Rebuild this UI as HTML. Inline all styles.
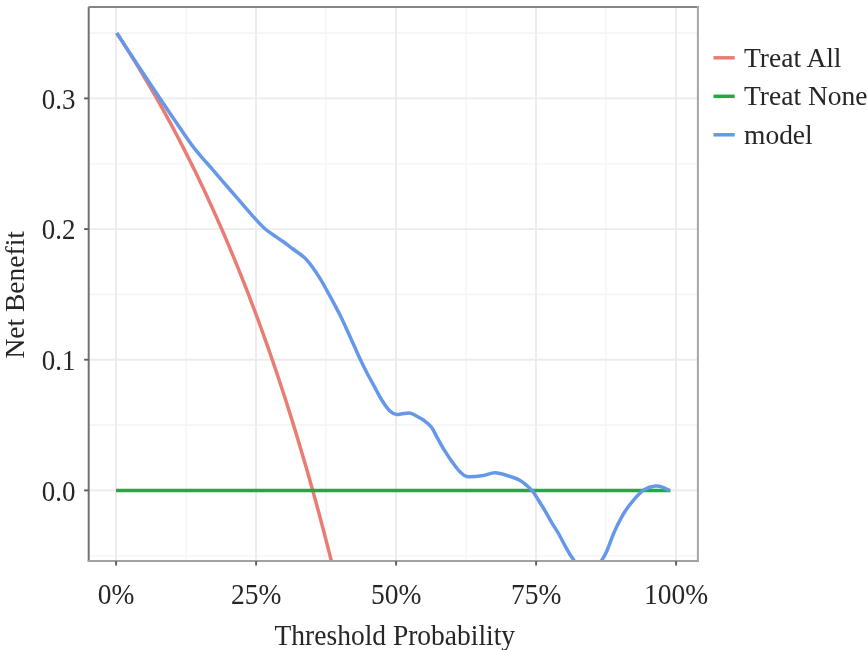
<!DOCTYPE html>
<html><head><meta charset="utf-8"><style>
html,body{margin:0;padding:0;background:#fff;width:867px;height:650px;overflow:hidden}
svg{display:block;filter:blur(0.5px)}
text{font-family:"Liberation Serif",serif;font-size:27.5px;fill:#262626}
</style></head><body>
<svg width="867" height="650" viewBox="0 0 867 650">
<defs><clipPath id="clip"><rect x="88.7" y="7.1" width="609.2" height="553.8"/></clipPath></defs>
<rect x="0" y="0" width="867" height="650" fill="#fff"/>
<line x1="186.0" y1="7.1" x2="186.0" y2="560.9" stroke="#F5F5F5" stroke-width="1.6"/>
<line x1="326.0" y1="7.1" x2="326.0" y2="560.9" stroke="#F5F5F5" stroke-width="1.6"/>
<line x1="466.0" y1="7.1" x2="466.0" y2="560.9" stroke="#F5F5F5" stroke-width="1.6"/>
<line x1="606.0" y1="7.1" x2="606.0" y2="560.9" stroke="#F5F5F5" stroke-width="1.6"/>
<line x1="88.7" y1="555.7" x2="697.9" y2="555.7" stroke="#F5F5F5" stroke-width="1.6"/>
<line x1="88.7" y1="425.1" x2="697.9" y2="425.1" stroke="#F5F5F5" stroke-width="1.6"/>
<line x1="88.7" y1="294.4" x2="697.9" y2="294.4" stroke="#F5F5F5" stroke-width="1.6"/>
<line x1="88.7" y1="163.7" x2="697.9" y2="163.7" stroke="#F5F5F5" stroke-width="1.6"/>
<line x1="88.7" y1="33.1" x2="697.9" y2="33.1" stroke="#F5F5F5" stroke-width="1.6"/>
<line x1="116.0" y1="7.1" x2="116.0" y2="560.9" stroke="#ECECEC" stroke-width="1.9"/>
<line x1="256.0" y1="7.1" x2="256.0" y2="560.9" stroke="#ECECEC" stroke-width="1.9"/>
<line x1="396.0" y1="7.1" x2="396.0" y2="560.9" stroke="#ECECEC" stroke-width="1.9"/>
<line x1="536.0" y1="7.1" x2="536.0" y2="560.9" stroke="#ECECEC" stroke-width="1.9"/>
<line x1="676.0" y1="7.1" x2="676.0" y2="560.9" stroke="#ECECEC" stroke-width="1.9"/>
<line x1="88.7" y1="490.4" x2="697.9" y2="490.4" stroke="#ECECEC" stroke-width="1.9"/>
<line x1="88.7" y1="359.7" x2="697.9" y2="359.7" stroke="#ECECEC" stroke-width="1.9"/>
<line x1="88.7" y1="229.1" x2="697.9" y2="229.1" stroke="#ECECEC" stroke-width="1.9"/>
<line x1="88.7" y1="98.4" x2="697.9" y2="98.4" stroke="#ECECEC" stroke-width="1.9"/>
<g clip-path="url(#clip)" fill="none" stroke-width="3.5" stroke-linejoin="round" stroke-linecap="butt">
<path d="M116.70 33.06 L119.50 37.32 L122.30 41.63 L125.10 45.99 L127.90 50.39 L130.70 54.83 L133.50 59.32 L136.30 63.86 L139.10 68.44 L141.90 73.08 L144.70 77.76 L147.50 82.49 L150.30 87.27 L153.10 92.10 L155.90 96.98 L158.70 101.92 L161.50 106.91 L164.30 111.96 L167.10 117.06 L169.90 122.21 L172.70 127.43 L175.50 132.70 L178.30 138.03 L181.10 143.42 L183.90 148.88 L186.70 154.39 L189.50 159.97 L192.30 165.61 L195.10 171.32 L197.90 177.10 L200.70 182.94 L203.50 188.85 L206.30 194.84 L209.10 200.89 L211.90 207.02 L214.70 213.22 L217.50 219.50 L220.30 225.85 L223.10 232.29 L225.90 238.80 L228.70 245.39 L231.50 252.07 L234.30 258.83 L237.10 265.68 L239.90 272.62 L242.70 279.64 L245.50 286.76 L248.30 293.97 L251.10 301.27 L253.90 308.67 L256.70 316.17 L259.50 323.77 L262.30 331.48 L265.10 339.29 L267.90 347.20 L270.70 355.22 L273.50 363.36 L276.30 371.61 L279.10 379.97 L281.90 388.46 L284.70 397.06 L287.50 405.79 L290.30 414.65 L293.10 423.63 L295.90 432.75 L298.70 442.00 L301.50 451.39 L304.30 460.93 L307.10 470.60 L309.90 480.43 L312.70 490.40 L315.50 500.53 L318.30 510.82 L321.10 521.27 L323.90 531.88 L326.70 542.67 L329.50 553.63 L332.30 564.77 L335.10 576.09 L337.90 587.59 L340.70 599.29 L343.50 611.19 L346.30 623.28 L349.10 635.59" stroke="#E97D74"/>
<path d="M116.0 490.4 L670.4 490.4" stroke="#1FAA48"/>
<path d="M116.80 33.00 C120.58 38.80 131.97 56.38 139.50 67.80 C147.03 79.22 153.97 89.60 162.00 101.50 C170.03 113.40 182.13 131.18 187.70 139.20 C193.27 147.22 192.83 146.33 195.40 149.60 C197.97 152.87 200.53 155.82 203.10 158.80 C205.67 161.78 207.85 164.10 210.80 167.50 C213.75 170.90 216.57 174.30 220.80 179.20 C225.03 184.10 231.08 191.00 236.20 196.90 C241.32 202.80 246.90 209.47 251.50 214.60 C256.10 219.73 259.68 223.98 263.80 227.70 C267.92 231.42 273.00 234.60 276.20 236.90 C279.40 239.20 280.32 239.57 283.00 241.50 C285.68 243.43 288.70 245.78 292.30 248.50 C295.90 251.22 301.12 254.52 304.60 257.80 C308.08 261.08 310.53 264.62 313.20 268.20 C315.87 271.78 318.33 275.60 320.60 279.30 C322.87 283.00 324.75 286.70 326.80 290.40 C328.85 294.10 330.52 297.02 332.90 301.50 C335.28 305.98 338.50 312.00 341.10 317.30 C343.70 322.60 346.25 328.38 348.50 333.30 C350.75 338.22 352.55 342.28 354.60 346.80 C356.65 351.32 358.75 356.08 360.80 360.40 C362.85 364.72 364.57 368.22 366.90 372.70 C369.23 377.18 372.25 382.62 374.80 387.30 C377.35 391.98 379.73 396.90 382.20 400.80 C384.67 404.70 387.23 408.43 389.60 410.70 C391.97 412.97 394.35 413.88 396.40 414.40 C398.45 414.92 399.55 414.00 401.90 413.80 C404.25 413.60 408.03 412.80 410.50 413.20 C412.97 413.60 414.43 414.98 416.70 416.20 C418.97 417.42 421.63 418.65 424.10 420.50 C426.57 422.35 429.27 424.35 431.50 427.30 C433.73 430.25 435.28 434.27 437.50 438.20 C439.72 442.13 442.35 446.93 444.80 450.90 C447.25 454.87 449.75 458.62 452.20 462.00 C454.65 465.38 457.05 468.78 459.50 471.20 C461.95 473.62 463.20 475.73 466.90 476.50 C470.60 477.27 476.98 476.42 481.70 475.80 C486.42 475.18 490.55 472.72 495.20 472.80 C499.85 472.88 505.52 475.07 509.60 476.30 C513.68 477.53 516.78 478.62 519.70 480.20 C522.62 481.78 524.85 483.85 527.10 485.80 C529.35 487.75 531.15 489.23 533.20 491.90 C535.25 494.57 537.35 498.52 539.40 501.80 C541.45 505.08 543.45 508.12 545.50 511.60 C547.55 515.08 549.58 519.13 551.70 522.70 C553.82 526.27 556.02 529.22 558.20 533.00 C560.38 536.78 562.88 541.90 564.80 545.40 C566.72 548.90 568.17 551.50 569.70 554.00 C571.23 556.50 572.45 558.07 574.00 560.40 C575.55 562.73 576.67 565.73 579.00 568.00 C581.33 570.27 585.00 574.00 588.00 574.00 C591.00 574.00 594.72 570.27 597.00 568.00 C599.28 565.73 600.10 563.15 601.70 560.40 C603.30 557.65 604.75 555.65 606.60 551.50 C608.45 547.35 611.00 539.88 612.80 535.50 C614.60 531.12 615.40 529.17 617.40 525.20 C619.40 521.23 621.93 516.10 624.80 511.70 C627.67 507.30 631.32 502.50 634.60 498.80 C637.88 495.10 641.02 491.62 644.50 489.50 C647.98 487.38 652.43 486.47 655.50 486.10 C658.57 485.73 660.53 486.52 662.90 487.30 C665.27 488.08 668.57 490.22 669.70 490.80" stroke="#6598E8"/>
</g>
<line x1="88.7" y1="6.8999999999999995" x2="88.7" y2="561.9" stroke="#727272" stroke-width="2"/>
<line x1="88.5" y1="7.1" x2="698.9" y2="7.1" stroke="#858585" stroke-width="2"/>
<line x1="697.9" y1="6.1" x2="697.9" y2="561.9" stroke="#A6A6A6" stroke-width="2"/>
<line x1="87.7" y1="560.9" x2="698.9" y2="560.9" stroke="#A2A2A2" stroke-width="2"/>
<line x1="116.1" y1="561.1999999999999" x2="116.1" y2="565.5" stroke="#5E5E5E" stroke-width="1.9"/>
<line x1="256.1" y1="561.1999999999999" x2="256.1" y2="565.5" stroke="#5E5E5E" stroke-width="1.9"/>
<line x1="396.1" y1="561.1999999999999" x2="396.1" y2="565.5" stroke="#5E5E5E" stroke-width="1.9"/>
<line x1="536.1" y1="561.1999999999999" x2="536.1" y2="565.5" stroke="#5E5E5E" stroke-width="1.9"/>
<line x1="676.1" y1="561.1999999999999" x2="676.1" y2="565.5" stroke="#5E5E5E" stroke-width="1.9"/>
<line x1="84.1" y1="490.4" x2="88.4" y2="490.4" stroke="#5E5E5E" stroke-width="1.9"/>
<line x1="84.1" y1="359.7" x2="88.4" y2="359.7" stroke="#5E5E5E" stroke-width="1.9"/>
<line x1="84.1" y1="229.1" x2="88.4" y2="229.1" stroke="#5E5E5E" stroke-width="1.9"/>
<line x1="84.1" y1="98.4" x2="88.4" y2="98.4" stroke="#5E5E5E" stroke-width="1.9"/>
<text transform="translate(116.1,604.1) scale(1,1.1)" text-anchor="middle">0%</text>
<text transform="translate(256.1,604.1) scale(1,1.1)" text-anchor="middle">25%</text>
<text transform="translate(396.1,604.1) scale(1,1.1)" text-anchor="middle">50%</text>
<text transform="translate(536.1,604.1) scale(1,1.1)" text-anchor="middle">75%</text>
<text transform="translate(676.1,604.1) scale(1,1.1)" text-anchor="middle">100%</text>
<text transform="translate(75.4,500.5) scale(0.98,1.08)" text-anchor="end">0.0</text>
<text transform="translate(75.4,369.8) scale(0.98,1.08)" text-anchor="end">0.1</text>
<text transform="translate(75.4,239.2) scale(0.98,1.08)" text-anchor="end">0.2</text>
<text transform="translate(75.4,108.5) scale(0.98,1.08)" text-anchor="end">0.3</text>
<text transform="translate(394.8,644.6) scale(1,1.04)" text-anchor="middle">Threshold Probability</text>
<text transform="translate(24.2,294.8) rotate(-90) scale(1,1.03)" text-anchor="middle">Net Benefit</text>
<line x1="713.5" y1="57.8" x2="734.7" y2="57.8" stroke="#E97D74" stroke-width="3.5"/>
<text transform="translate(744,66.9) scale(1,1.03)">Treat All</text>
<line x1="713.5" y1="96.3" x2="734.7" y2="96.3" stroke="#1FAA48" stroke-width="3.5"/>
<text transform="translate(744,105.4) scale(1,1.03)">Treat None</text>
<line x1="713.5" y1="134.8" x2="734.7" y2="134.8" stroke="#6598E8" stroke-width="3.5"/>
<text transform="translate(744,143.9) scale(1,1.03)">model</text>
</svg>
</body></html>
